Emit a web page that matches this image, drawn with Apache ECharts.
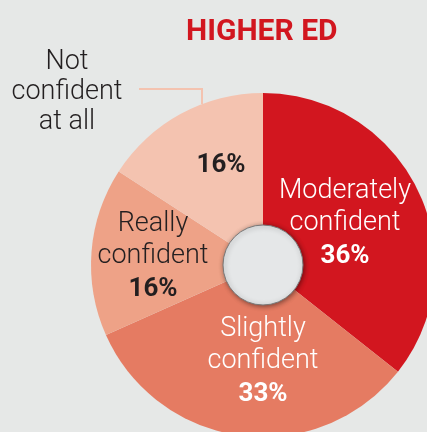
<!DOCTYPE html>
<html>
<head>
<meta charset="utf-8">
<script src="https://cdn.jsdelivr.net/npm/echarts@6/dist/echarts.min.js"></script>
<style>
  html, body { margin: 0; padding: 0; background: #e6e8e7; }
  #chart { width: 427px; height: 432px; }
</style>
</head>
<body>
<div id="chart"></div>
<script>
var categories = ['Moderately confident', 'Slightly confident', 'Really confident', 'Not confident at all'];
var shortNames = ['Moderately\nconfident', 'Slightly\nconfident', 'Really\nconfident', 'Not\nconfident\nat all'];
var values = [36, 33, 16, 16];
var colors = ['#d2161f', '#e57b62', '#eea287', '#f4c3b0'];
var textColors = ['#ffffff', '#ffffff', '#231f20', '#231f20'];

// where each label sits (label centres, px)
var labelPos = [[345, 224], [263, 362], [153, 257], [221, 165]];

var myChart = echarts.init(document.getElementById('chart'));

var mainData = values.map(function (v, i) {
  var fmt = i === 3 ? '{p|' + v + '%}' : '{n|' + shortNames[i] + '}\n{p|' + v + '%}';
  return {
    name: categories[i],
    value: v,
    itemStyle: { color: colors[i] },
    label: {
      formatter: fmt,
      rich: {
        n: { color: textColors[i], fontSize: 27, fontWeight: 300, lineHeight: 32, fontFamily: 'Roboto', align: 'center' },
        p: { color: textColors[i], fontSize: 26, fontWeight: 'bold', lineHeight: 34, fontFamily: 'Roboto', align: 'center' }
      }
    }
  };
});

var outerData = values.map(function (v, i) {
  return {
    name: categories[i],
    value: v,
    itemStyle: { color: 'rgba(0,0,0,0)' },
    label: { show: i === 3, formatter: shortNames[i] },
    labelLine: { show: i === 3 }
  };
});

option = {
  backgroundColor: '#e6e8e7',
  title: {
    text: 'HIGHER ED',
    left: 181,
    top: 12,
    textStyle: { color: '#d2161f', fontSize: 30, fontWeight: 'bold', fontFamily: 'Roboto' }
  },
  series: [{
    type: 'pie',
    center: [263, 265],
    radius: [0, 172],
    startAngle: 90,
    clockwise: true,
    silent: true,
    label: { show: true, position: 'inside', align: 'center' },
    labelLine: { show: false },
    labelLayout: function (params) {
      var p = labelPos[params.dataIndex];
      return { x: p[0], y: p[1], align: 'center', verticalAlign: 'middle' };
    },
    data: mainData
  }, {
    type: 'pie',
    center: [263, 265],
    radius: [0, 172],
    startAngle: 90,
    clockwise: true,
    silent: true,
    z: 3,
    label: {
      position: 'outside',
      color: '#231f20',
      fontSize: 27,
      fontWeight: 300,
      lineHeight: 30,
      fontFamily: 'Roboto',
      align: 'center'
    },
    labelLine: { lineStyle: { color: '#f4c3b0', width: 2 } },
    labelLayout: function (params) {
      return {
        x: 67, y: 92, align: 'center', verticalAlign: 'middle',
        labelLinePoints: [[202, 104], [202, 89], [139, 89]]
      };
    },
    data: outerData
  }, {
    type: 'pie',
    center: [263, 265],
    radius: [0, 40],
    silent: true,
    z: 4,
    label: { show: false },
    labelLine: { show: false },
    itemStyle: {
      color: '#e5e7e8',
      borderColor: '#7a7a7a',
      borderWidth: 1,
      shadowBlur: 5,
      shadowOffsetX: 1,
      shadowOffsetY: 1,
      shadowColor: 'rgba(0,0,0,0.45)'
    },
    data: [{ name: 'hole', value: 1 }]
  }]
};

myChart.setOption(option);
window.addEventListener('resize', function () {
  myChart.resize();
});
</script>
</body>
</html>
